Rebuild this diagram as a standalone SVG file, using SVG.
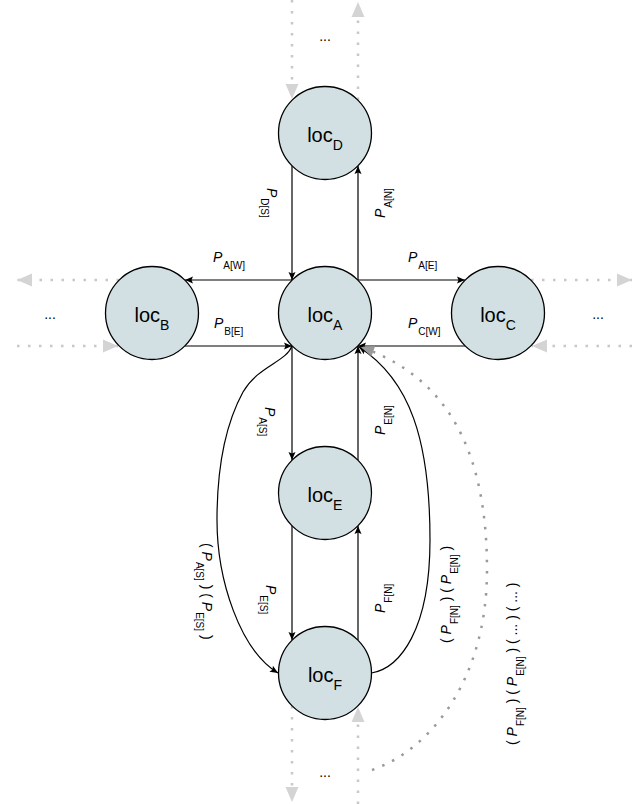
<svg xmlns="http://www.w3.org/2000/svg" width="644" height="804" viewBox="0 0 644 804">
<style>
.node circle{fill:#d2e0e3;stroke:#000;stroke-width:1.3}
.node text{font-family:"Liberation Sans",Arial,sans-serif;font-size:20px;text-anchor:middle;fill:#000}
.ns{font-size:14px}
.edge{fill:none;stroke:#000;stroke-width:1.2;marker-end:url(#arr)}
.ext{fill:none;stroke:#c8c8c8;stroke-width:2.5;stroke-dasharray:2.5 8.5;marker-end:url(#garr)}
.gcurve{fill:none;stroke:#999;stroke-width:2.5;stroke-dasharray:2.5 8.5;marker-end:url(#darr)}
.lbl{font-family:"Liberation Sans",Arial,sans-serif;font-size:14px;fill:#000}
.p{font-style:italic}
.s{font-size:10px}
.dots{font-family:"Liberation Sans",Arial,sans-serif;font-size:14px;text-anchor:middle;fill:#000}
</style>
<defs>
<marker id="arr" markerUnits="userSpaceOnUse" markerWidth="9" markerHeight="8" refX="8" refY="3.5" orient="auto" overflow="visible">
<path d="M0,0 L8,3.5 L0,7 L1.5,3.5 Z" fill="#000"/>
</marker>
<marker id="garr" markerUnits="userSpaceOnUse" markerWidth="16" markerHeight="14" refX="15" refY="6.5" orient="auto" overflow="visible">
<path d="M0,0 L15,6.5 L0,13 Z" fill="#d4d4d4"/>
</marker>
<marker id="darr" markerUnits="userSpaceOnUse" markerWidth="15" markerHeight="13" refX="13" refY="5.5" orient="auto" overflow="visible">
<path d="M0,0 L13,5.5 L0,11 Z" fill="#999"/>
</marker>
</defs>

<g id="connectors">
<path class="ext" d="M292,0 L292,99"/>
<path class="ext" d="M358,100 L358,2"/>
<path class="ext" d="M119,280 L17,280"/>
<path class="ext" d="M17,346 L118,346"/>
<path class="ext" d="M531,280 L632,280"/>
<path class="ext" d="M632,346 L532,346"/>
<path class="ext" d="M292,706 L292,802"/>
<path class="ext" d="M358,804 L358,707"/>
<path class="edge" d="M292,166 L292,280"/>
<path class="edge" d="M358,280 L358,166"/>
<path class="edge" d="M292,280 L185,280"/>
<path class="edge" d="M358,280 L465,280"/>
<path class="edge" d="M185,346 L292,346"/>
<path class="edge" d="M465,346 L358,346"/>
<path class="edge" d="M292,346 L292,460"/>
<path class="edge" d="M358,460 L358,346"/>
<path class="edge" d="M292,526 L292,640"/>
<path class="edge" d="M358,640 L358,526"/>
<path class="edge" d="M292,346 C286,362 258,366 243,392 C225,425 217,470 217,520 C217,580 240,650 278,673"/>
<path class="edge" d="M371.5,673 C400,668 430,630 430,540 C430,440 410,380 359,347"/>
<path class="gcurve" d="M372,770 C430,750 487,680 487,570 C487,440 440,375 361,347"/>
</g>

<g id="edge-labels">
<text class="lbl" x="213" y="262"><tspan class="p">P</tspan><tspan class="s" dx="1" dy="6.5">A[W]</tspan></text>
<text class="lbl" x="408" y="262"><tspan class="p">P</tspan><tspan class="s" dx="1" dy="6.5">A[E]</tspan></text>
<text class="lbl" x="214" y="328"><tspan class="p">P</tspan><tspan class="s" dx="1" dy="6.5">B[E]</tspan></text>
<text class="lbl" x="408" y="328"><tspan class="p">P</tspan><tspan class="s" dx="1" dy="6.5">C[W]</tspan></text>

<text class="lbl" transform="translate(267,188) rotate(90)"><tspan class="p">P</tspan><tspan class="s" dx="1" dy="6.5">D[S]</tspan></text>
<text class="lbl" transform="translate(265,407) rotate(90)"><tspan class="p">P</tspan><tspan class="s" dx="1" dy="6.5">A[S]</tspan></text>
<text class="lbl" transform="translate(266,585) rotate(90)"><tspan class="p">P</tspan><tspan class="s" dx="1" dy="6.5">E[S]</tspan></text>
<text class="lbl" transform="translate(202,543) rotate(90)">( <tspan class="p">P</tspan><tspan class="s" dx="1" dy="6.5">A[S]</tspan><tspan dy="-6.5"> ) ( </tspan><tspan class="p">P</tspan><tspan class="s" dx="1" dy="6.5">E[S]</tspan><tspan dy="-6.5"> )</tspan></text>

<text class="lbl" transform="translate(385,218) rotate(-90)"><tspan class="p">P</tspan><tspan class="s" dx="1" dy="6.5">A[N]</tspan></text>
<text class="lbl" transform="translate(385,435) rotate(-90)"><tspan class="p">P</tspan><tspan class="s" dx="1" dy="6.5">E[N]</tspan></text>
<text class="lbl" transform="translate(385,613) rotate(-90)"><tspan class="p">P</tspan><tspan class="s" dx="1" dy="6.5">F[N]</tspan></text>
<text class="lbl" transform="translate(451,643) rotate(-90)">( <tspan class="p">P</tspan><tspan class="s" dx="1" dy="6.5">F[N]</tspan><tspan dy="-6.5"> ) ( </tspan><tspan class="p">P</tspan><tspan class="s" dx="1" dy="6.5">E[N]</tspan><tspan dy="-6.5"> )</tspan></text>
<text class="lbl" transform="translate(517,745) rotate(-90)">( <tspan class="p">P</tspan><tspan class="s" dx="1" dy="6.5">F[N]</tspan><tspan dy="-6.5"> ) ( </tspan><tspan class="p">P</tspan><tspan class="s" dx="1" dy="6.5">E[N]</tspan><tspan dy="-6.5"> ) ( ... ) ( ... )</tspan></text>
</g>

<g id="ellipses">
<text class="dots" x="325" y="41">...</text>
<text class="dots" x="50" y="319">...</text>
<text class="dots" x="598" y="319">...</text>
<text class="dots" x="325" y="777">...</text>
</g>

<g id="locD" class="node"><circle cx="325" cy="133" r="46.5"/><text x="325" y="142">loc<tspan class="ns" dy="8">D</tspan></text></g>
<g id="locA" class="node"><circle cx="325" cy="313" r="46.5"/><text x="325" y="322">loc<tspan class="ns" dy="8">A</tspan></text></g>
<g id="locB" class="node"><circle cx="152" cy="313" r="46.5"/><text x="152" y="322">loc<tspan class="ns" dy="8">B</tspan></text></g>
<g id="locC" class="node"><circle cx="498" cy="313" r="46.5"/><text x="498" y="322">loc<tspan class="ns" dy="8">C</tspan></text></g>
<g id="locE" class="node"><circle cx="325" cy="493" r="46.5"/><text x="325" y="502">loc<tspan class="ns" dy="8">E</tspan></text></g>
<g id="locF" class="node"><circle cx="325" cy="673" r="46.5"/><text x="325" y="682">loc<tspan class="ns" dy="8">F</tspan></text></g>
</svg>
